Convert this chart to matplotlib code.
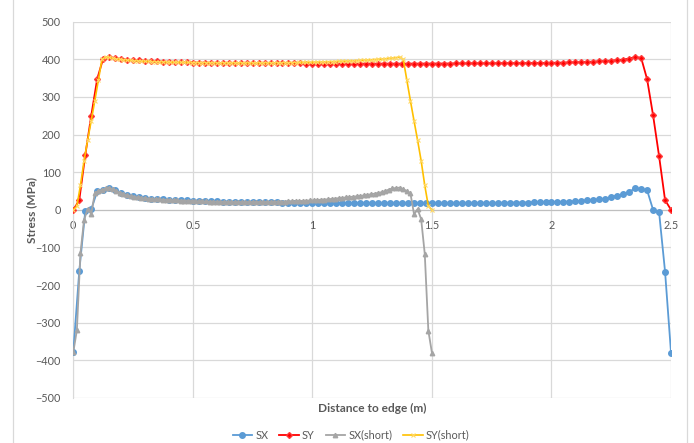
import numpy as np
import matplotlib.pyplot as plt
from matplotlib.lines import Line2D

plt.rcParams['font.family'] = ['Lato', 'DejaVu Sans']

# full width plate: 101 stations, 0.025 m apart
x_long = np.arange(101) * 0.025
# short plate: 101 stations, 0.015 m apart
x_short = np.arange(101) * 0.015

sx = [-378, -163, -4, 1, 49, 53, 57, 52, 45, 40, 36,
      33.5, 31.5, 30, 29, 28, 27, 26, 25.5, 25, 24,
      23.5, 23, 22.8, 22.5, 22, 21.8, 21.5, 21.2, 21, 20.8,
      20.5, 20.2, 20, 19.8, 19.5, 19.3, 19, 18.8, 18.6, 18.5,
      18.4, 18.3, 18.2, 18.1, 18, 17.9, 17.8, 17.7, 17.6, 17.5,
      17.4, 17.3, 17.3, 17.2, 17.2, 17.1, 17.1, 17, 17, 17,
      17, 17.1, 17.2, 17.3, 17.4, 17.5, 17.7, 17.9, 18.1, 18.3,
      18.5, 18.7, 18.9, 19.1, 19.3, 19.5, 19.8, 20.1, 20.4, 20.7,
      21, 21.5, 22, 23, 24, 25, 26.5, 28, 30, 34, 38, 42,
      48, 57, 55, 52, 0, -6, -164, -380]

sy = [0, 26, 145, 250, 348, 402, 406, 403, 401, 399, 398,
      397, 396, 395, 394.5, 394, 393.5, 393, 392.5, 392, 391.5,
      391.2, 391, 390.8, 390.6, 390.4, 390.2, 390, 389.9, 389.8, 389.7,
      389.6, 389.5, 389.4, 389.3, 389.2, 389.1, 389, 389, 388.9, 388.9,
      388.8, 388.8, 388.7, 388.7, 388.6, 388.6, 388.6, 388.5, 388.5, 388.5,
      388.5, 388.5, 388.5, 388.5, 388.5, 388.6, 388.6, 388.6, 388.7, 388.7,
      388.8, 388.8, 388.9, 389, 389.1, 389.2, 389.3, 389.4, 389.5, 389.6,
      389.7, 389.8, 389.9, 390, 390.1, 390.2, 390.3, 390.4, 390.6, 390.8,
      391, 391.3, 391.7, 392.1, 392.6, 393.2, 393.9, 394.7, 395.6, 396.6, 397.8, 399.5,
      402, 406, 404, 347, 251, 143, 26, 0]

sx_short = [-378, -320, -115, -27, 2, -11, 44, 50, 53, 57, 58,
            55, 50, 46, 42, 39, 37, 35, 33, 32, 31,
            30, 29, 28.5, 28, 27, 26.5, 26, 25.5, 25, 24.5,
            24, 24, 23.5, 23, 23, 22.5, 22.5, 22, 22, 22,
            21.5, 21.5, 21.5, 21.5, 21, 21, 21, 21, 21, 21,
            21, 21, 21, 21.5, 21.5, 21.5, 22, 22, 22, 22.5,
            23, 23, 23.5, 24, 24.5, 25, 25.5, 26, 27, 27.5,
            28, 29, 30, 31, 32, 33, 34, 35, 36, 37,
            38.5, 40, 41.5, 43, 45, 47, 50, 54, 57, 58,
            59, 55, 50, 44, -11, 2, -25, -117, -321, -380]

sy_short = [0, 10, 65, 130, 185, 237, 290, 345, 400, 406, 405,
            403, 401.5, 400, 399, 398, 397.2, 396.5, 396, 395.5, 395,
            394.6, 394.2, 393.8, 393.5, 393.2, 392.9, 392.6, 392.4, 392.2, 392,
            391.8, 391.6, 391.5, 391.3, 391.2, 391.1, 391, 390.9, 390.8, 390.8,
            390.7, 390.7, 390.6, 390.6, 390.6, 390.5, 390.5, 390.5, 390.5, 390.5,
            390.5, 390.6, 390.6, 390.7, 390.7, 390.8, 390.9, 391, 391.1, 391.2,
            391.3, 391.4, 391.6, 391.8, 392, 392.2, 392.4, 392.7, 393, 393.3,
            393.6, 393.9, 394.2, 394.5, 394.9, 395.3, 395.7, 396.1, 396.6, 397.1,
            397.6, 398.2, 398.8, 399.4, 400.1, 400.8, 401.6, 402.5, 403.5, 404.6,
            406, 400, 345, 290, 237, 185, 130, 65, 10, 0]

x_ticks = [0, 0.5, 1, 1.5, 2, 2.5]
x_tick_labels = ["0", "0.5", "1", "1.5", "2", "2.5"]
y_ticks = [-500, -400, -300, -200, -100, 0, 100, 200, 300, 400, 500]

fig = plt.figure(figsize=(6.94, 4.43), dpi=100)
ax = fig.add_axes([0.1056, 0.1016, 0.8613, 0.8494])

ax.plot(x_long, sx, color="#5B9BD5", lw=1.3, marker="o", ms=4, label="SX", zorder=3)
ax.plot(x_long, sy, color="#FF0000", lw=1.3, marker="D", ms=3, mec="#FF3B3B",
        label="SY", zorder=4)
ax.plot(x_short, sx_short, color="#A5A5A5", lw=1.3, marker="^", ms=3.2,
        label="SX(short)", zorder=5)
ax.plot(x_short, sy_short, color="#FFC000", lw=1.2, marker="x", ms=3, mew=0.8,
        mec="#FFD966", label="SY(short)", zorder=6)

ax.set_xlim(0, 2.5)
ax.set_ylim(-500, 500)
ax.set_xticks(x_ticks)
ax.set_xticklabels(x_tick_labels)
ax.set_yticks(y_ticks)
ax.grid(True, color="#D9D9D9", lw=0.9)
ax.set_axisbelow(True)

for s in ["top", "right"]:
    ax.spines[s].set_visible(False)
ax.spines["bottom"].set_position(("data", 0))
ax.spines["bottom"].set_color("#BFBFBF")
ax.spines["left"].set_color("#D9D9D9")
ax.tick_params(length=0, labelsize=7.8, labelcolor="#595959")
ax.tick_params(axis="x", pad=7)
ax.tick_params(axis="y", pad=9)

fig.text(0.046, 0.526, "Stress (MPa)", rotation=90, ha="center", va="center",
         fontsize=8.6, fontweight="bold", color="#595959")
fig.text(0.536, 0.079, "Distance to edge (m)", ha="center", va="center",
         fontsize=8.6, fontweight="bold", color="#595959")

fig.legend(loc="center", bbox_to_anchor=(0.506, 0.018), ncol=4, frameon=False,
           fontsize=7.8, labelcolor="#595959", handlelength=1.8,
           handletextpad=0.3, columnspacing=1.0)

# chart area border
for xf in [13 / 694, 687 / 694]:
    fig.add_artist(Line2D([xf, xf], [0, 1], color="#D9D9D9", lw=0.9,
                          transform=fig.transFigure))

fig.savefig("out.png", dpi=100)
